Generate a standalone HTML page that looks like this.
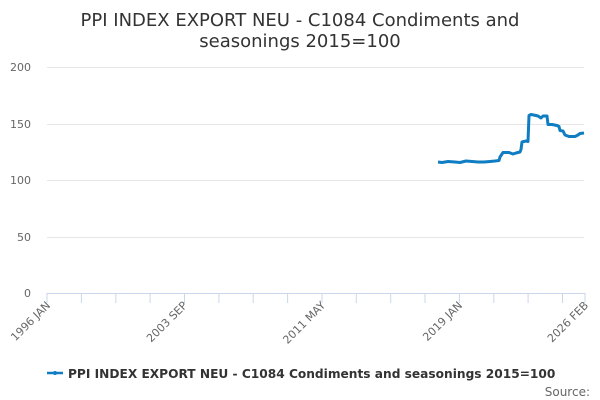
<!DOCTYPE html>
<html><head><style>
body{margin:0;background:#fff;}
svg{display:block;font-family:"DejaVu Sans","Liberation Sans",sans-serif;}
</style></head><body>
<svg width="600" height="400" xmlns="http://www.w3.org/2000/svg">
<text x="300" y="26" text-anchor="middle" font-size="18" fill="#333">PPI INDEX EXPORT NEU - C1084 Condiments and</text>
<text x="300" y="47" text-anchor="middle" font-size="18" fill="#333">seasonings 2015=100</text>
<g stroke="#e6e6e6" stroke-width="1">
<line x1="47" y1="67.5" x2="584" y2="67.5"/>
<line x1="47" y1="124.5" x2="584" y2="124.5"/>
<line x1="47" y1="180.5" x2="584" y2="180.5"/>
<line x1="47" y1="237.5" x2="584" y2="237.5"/>
</g>
<line x1="47" y1="293.5" x2="585" y2="293.5" stroke="#ccd6eb"/>
<g stroke="#ccd6eb">
<line x1="47" y1="293" x2="47" y2="303"/><line x1="81.4" y1="293" x2="81.4" y2="303"/><line x1="115.8" y1="293" x2="115.8" y2="303"/><line x1="150.1" y1="293" x2="150.1" y2="303"/><line x1="184.5" y1="293" x2="184.5" y2="303"/><line x1="218.9" y1="293" x2="218.9" y2="303"/><line x1="253.2" y1="293" x2="253.2" y2="303"/><line x1="287.6" y1="293" x2="287.6" y2="303"/><line x1="322" y1="293" x2="322" y2="303"/><line x1="356.3" y1="293" x2="356.3" y2="303"/><line x1="390.7" y1="293" x2="390.7" y2="303"/><line x1="425" y1="293" x2="425" y2="303"/><line x1="459.4" y1="293" x2="459.4" y2="303"/><line x1="493.8" y1="293" x2="493.8" y2="303"/><line x1="528.1" y1="293" x2="528.1" y2="303"/><line x1="562.5" y1="293" x2="562.5" y2="303"/><line x1="585" y1="293" x2="585" y2="303"/>
</g>
<g font-size="11" fill="#666" text-anchor="end">
<text x="31" y="71">200</text><text x="31" y="128">150</text><text x="31" y="184">100</text><text x="31" y="241">50</text><text x="31" y="297">0</text>
</g>
<g font-size="11" fill="#666" text-anchor="end">
<text transform="translate(51,306) rotate(-45)">1996 JAN</text>
<text transform="translate(188,306) rotate(-45)">2003 SEP</text>
<text transform="translate(326,306) rotate(-45)">2011 MAY</text>
<text transform="translate(463,306) rotate(-45)">2019 JAN</text>
<text transform="translate(589,306) rotate(-45)">2026 FEB</text>
</g>
<polyline fill="none" stroke="#0f7dc2" stroke-width="3" stroke-linejoin="round" points="438,162 442,162.5 448,161.5 455,162 460,162.5 466,161 472,161.5 478,162 484,162 490,161.5 495,161 499,160.5 500,157 503,152.5 509,152.5 513,154 516,153 520,152 521,149.5 522,142 526,141 528,141.5 529,115.5 531,114.5 536,115.5 538,116 541,118 543,116 547,116 548,124.5 552,124.5 557,125.5 559,126.5 560,130.5 563,131 565,135 569,136.5 575,136.5 578,135 580,133.5 584,133"/>
<line x1="47" y1="373" x2="63" y2="373" stroke="#0f7dc2" stroke-width="2.5"/>
<circle cx="55" cy="373" r="2" fill="#0f7dc2"/>
<text x="68" y="378" font-size="12.2" font-weight="bold" fill="#333">PPI INDEX EXPORT NEU - C1084 Condiments and seasonings 2015=100</text>
<text x="590" y="396" text-anchor="end" font-size="12" fill="#666">Source:</text>
</svg>
</body></html>
